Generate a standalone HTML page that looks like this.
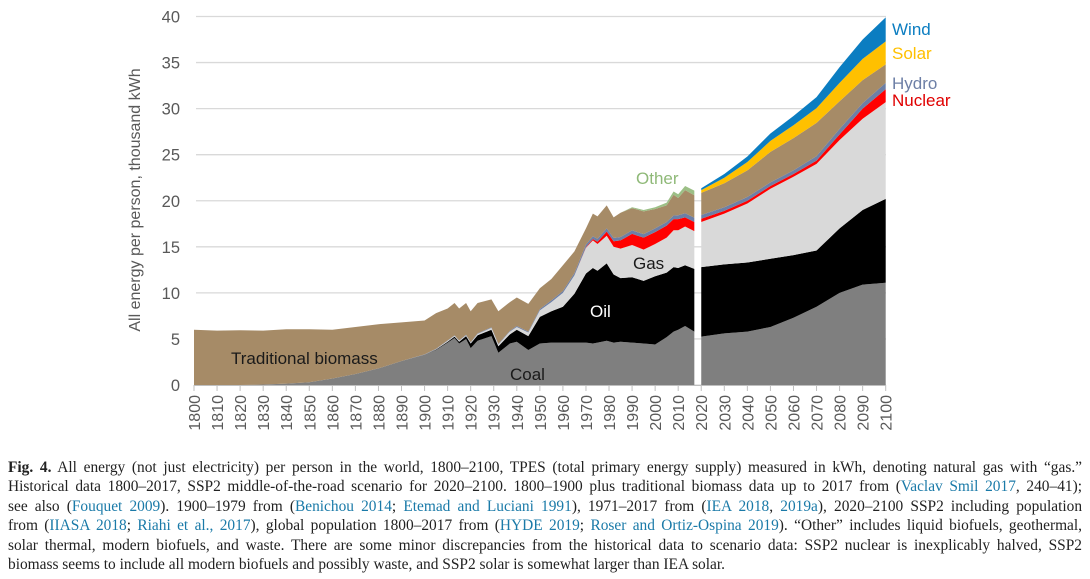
<!DOCTYPE html>
<html><head><meta charset="utf-8"><style>
body{margin:0;width:1090px;height:579px;background:#fff;overflow:hidden;font-family:"Liberation Sans",sans-serif}
#cap{position:absolute;left:8px;top:458px;width:1074px;font-family:"Liberation Serif",serif;font-size:15.4px;color:#222}
#cap div{height:19.4px;line-height:19.4px;text-align:justify;text-align-last:justify;white-space:nowrap}
#cap div.l{text-align-last:left}
#cap a{color:#1a7aa8;text-decoration:none}
</style></head><body>
<svg id="chart" width="1090" height="450" style="position:absolute;left:0;top:0"></svg>
<div id="cap">
<div><b>Fig. 4.</b> All energy (not just electricity) per person in the world, 1800–2100, TPES (total primary energy supply) measured in kWh, denoting natural gas with “gas.”</div>
<div>Historical data 1800–2017, SSP2 middle-of-the-road scenario for 2020–2100. 1800–1900 plus traditional biomass data up to 2017 from (<a>Vaclav Smil 2017</a>, 240–41);</div>
<div>see also (<a>Fouquet 2009</a>). 1900–1979 from (<a>Benichou 2014</a>; <a>Etemad and Luciani 1991</a>), 1971–2017 from (<a>IEA 2018</a>, <a>2019a</a>), 2020–2100 SSP2 including population</div>
<div>from (<a>IIASA 2018</a>; <a>Riahi et al., 2017</a>), global population 1800–2017 from (<a>HYDE 2019</a>; <a>Roser and Ortiz-Ospina 2019</a>). “Other” includes liquid biofuels, geothermal,</div>
<div>solar thermal, modern biofuels, and waste. There are some minor discrepancies from the historical data to scenario data: SSP2 nuclear is inexplicably halved, SSP2</div>
<div class="l">biomass seems to include all modern biofuels and possibly waste, and SSP2 solar is somewhat larger than IEA solar.</div>
</div>
<script>
const histYears=[1800,1810,1820,1830,1840,1850,1860,1870,1880,1890,1900,1905,1910,1913,1915,1918,1920,1923,1929,1932,1937,1940,1945,1950,1955,1960,1965,1970,1973,1975,1979,1982,1985,1990,1995,2000,2005,2008,2010,2013,2017];
const histCoal=[0,0,0,0.05,0.15,0.3,0.7,1.2,1.8,2.6,3.3,3.8,4.6,5.1,4.5,5.0,4.0,4.8,5.3,3.5,4.5,4.7,3.8,4.5,4.6,4.6,4.6,4.6,4.5,4.6,4.8,4.6,4.7,4.6,4.5,4.4,5.2,5.8,6.0,6.4,5.8];
const histOil=[0,0,0,0,0,0,0,0,0,0,0,0.05,0.1,0.15,0.2,0.3,0.5,0.6,0.7,0.7,1.0,1.3,1.5,2.9,3.4,3.9,5.3,7.5,8.2,7.8,8.4,7.4,6.9,7.1,6.8,7.4,7.0,7.0,6.7,6.6,6.8];
const histGas=[0,0,0,0,0,0,0,0,0,0,0,0.05,0.1,0.1,0.1,0.1,0.1,0.15,0.2,0.2,0.3,0.3,0.4,0.7,1.0,1.5,2.0,2.8,3.0,2.9,3.0,3.0,3.2,3.5,3.4,3.5,3.8,4.0,4.1,4.2,4.1];
const histNuclear=[0,0,0,0,0,0,0,0,0,0,0,0,0,0,0,0,0,0,0,0,0,0,0,0,0,0,0,0.05,0.15,0.25,0.45,0.6,0.9,1.2,1.3,1.3,1.3,1.2,1.2,1.0,1.0];
const histHydro=[0,0,0,0,0,0,0,0,0,0,0.02,0.03,0.04,0.04,0.05,0.05,0.05,0.06,0.07,0.07,0.08,0.1,0.1,0.15,0.18,0.2,0.25,0.3,0.3,0.32,0.35,0.35,0.37,0.38,0.38,0.4,0.4,0.4,0.42,0.45,0.45];
const histBiomass=[6.0,5.9,5.95,5.85,5.9,5.75,5.3,5.1,4.8,4.2,3.68,3.87,3.46,3.51,3.45,3.45,3.35,3.29,3.03,3.53,3.12,3.1,3.0,2.25,2.32,2.8,2.35,1.75,2.45,2.43,2.5,2.25,2.63,2.42,2.47,2.1,1.8,2.25,1.88,2.5,2.45];
const histOther=[0,0,0,0,0,0,0,0,0,0,0,0,0,0,0,0,0,0,0,0,0,0,0,0,0,0,0,0,0,0,0,0,0,0.1,0.15,0.2,0.3,0.35,0.4,0.45,0.5];
const histSolar=histYears.map(()=>0);
const histWind=histYears.map(()=>0);
const scenYears=[2020,2030,2040,2050,2060,2070,2080,2090,2100];
const scenCoal=[5.25,5.6,5.8,6.3,7.3,8.5,10.0,10.9,11.1];
const scenOil=[7.55,7.5,7.5,7.4,6.8,6.1,7.0,8.1,9.1];
const scenGas=[4.9,5.5,6.4,7.6,8.5,9.4,9.6,9.9,10.5];
const scenNuclear=[0.35,0.3,0.3,0.3,0.3,0.35,0.6,1.1,1.4];
const scenHydro=[0.4,0.4,0.4,0.4,0.4,0.5,0.6,0.6,0.7];
const scenBiomass=[2.4,2.6,2.9,3.3,3.5,3.6,3.0,2.5,2.0];
const scenOther=[0,0,0,0,0,0,0,0,0];
const scenSolar=[0.3,0.6,0.9,1.2,1.4,1.6,2.0,2.3,2.5];
const scenWind=[0.2,0.4,0.6,0.8,1.0,1.2,1.7,2.1,2.6];
const seriesNames=["coal","oil","gas","nuclear","hydro","biomass","other","solar","wind"];
const seriesColors=["#7f7f7f","#000000","#d9d9d9","#ff0000","#6d7fa6","#a68b67","#9cbf86","#ffc000","#0b7dc1"];
const yTicks=[0,5,10,15,20,25,30,35,40];
const xTicks=[];for(let y=1800;y<=2100;y+=10)xTicks.push(y);

const NS="http://www.w3.org/2000/svg";
const svg=document.getElementById('chart');
const X=yr=>194+(yr-1800)*(691.7/300);
const Y=v=>385-v*9.2125;
function mk(t,a,p){const e=document.createElementNS(NS,t);for(const k in a)e.setAttribute(k,a[k]);(p||svg).appendChild(e);return e;}

yTicks.forEach(t=>{
  const g=mk('line',{x1:196,x2:886,y1:Y(t),y2:Y(t),stroke:'#d9d9d9','stroke-width':1.3});
  
  
  const l=mk('text',{x:180,y:Y(t)+6,'text-anchor':'end','font-size':16.5,fill:'#595959'});
  l.textContent=t;
  
  
});

function drawStack(years,sets,tag){
  const cum=years.map(()=>0);
  sets.forEach((arr,si)=>{
    const lower=cum.slice();
    arr.forEach((v,i)=>cum[i]+=v);
    let d='';
    years.forEach((yr,i)=>d+=(i?'L':'M')+X(yr).toFixed(2)+','+Y(cum[i]).toFixed(2));
    for(let i=years.length-1;i>=0;i--)d+='L'+X(years[i]).toFixed(2)+','+Y(lower[i]).toFixed(2);
    const p=mk('path',{d:d+'Z',fill:seriesColors[si]});
    
    
  });
}
drawStack(histYears,[histCoal,histOil,histGas,histNuclear,histHydro,histBiomass,histOther,histSolar,histWind],'historical');
drawStack(scenYears,[scenCoal,scenOil,scenGas,scenNuclear,scenHydro,scenBiomass,scenOther,scenSolar,scenWind],'scenario');

const ax=mk('line',{x1:194,x2:886,y1:385.5,y2:385.5,stroke:'#bfbfbf','stroke-width':1});


xTicks.forEach(t=>{
  const tk=mk('line',{x1:X(t),x2:X(t),y1:385,y2:391,stroke:'#bfbfbf'});
  
  
  const l=mk('text',{x:0,y:0,'text-anchor':'end','font-size':16,fill:'#595959',transform:`translate(${X(t)+6},395) rotate(-90)`});
  l.textContent=t;
  
  
});

const yt=mk('text',{x:0,y:0,'text-anchor':'middle','font-size':16,fill:'#595959',transform:'translate(140,200) rotate(-90)'});
yt.textContent='All energy per person, thousand kWh';



const labels=[
 ['Traditional biomass',231,364,'#1a1a1a','start','label-traditional-biomass'],
 ['Coal',510,380,'#1a1a1a','start','label-coal'],
 ['Oil',590,317,'#ffffff','start','label-oil'],
 ['Gas',633,269,'#1a1a1a','start','label-gas'],
 ['Other',636,184,'#8fb978','start','label-other'],
 ['Wind',892,35,'#0b7dc1','start','legend-wind'],
 ['Solar',892,59,'#ffc000','start','legend-solar'],
 ['Hydro',892,89,'#6d7fa6','start','legend-hydro'],
 ['Nuclear',892,106,'#e00000','start','legend-nuclear']
];
labels.forEach(a=>{
  const t=mk('text',{x:a[1],y:a[2],fill:a[3],'text-anchor':a[4],'font-size':17});
  t.textContent=a[0];
  
  
});
</script>
</body></html>
